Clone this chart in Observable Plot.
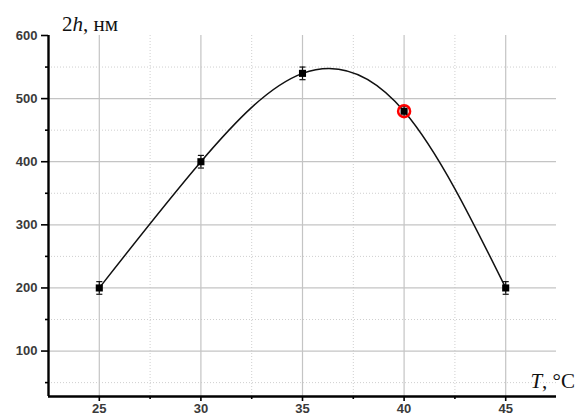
<!DOCTYPE html>
<html><head><meta charset="utf-8">
<script src="https://cdn.jsdelivr.net/npm/d3@7"></script>
<script src="https://cdn.jsdelivr.net/npm/@observablehq/plot@0.6"></script>
<style>body{margin:0;background:#fff}</style>
</head><body><div id="chart"></div>
<script>
const temps = [25, 30, 35, 40, 45];
const heights = [200, 400, 540, 480, 200];
const errors = [10, 10, 10, 8, 10];
const highlightT = [40];
const xMajor = [25, 30, 35, 40, 45];
const xMinor = [27.5, 32.5, 37.5, 42.5];
const yMajor = [100, 200, 300, 400, 500, 600];
const yMinor = [50, 150, 250, 350, 450, 550];
const xDomain = [22.5, 47.5];
const yDomain = [28, 600];

const data = temps.map((t, i) => ({t, h: heights[i], e: errors[i]}));
const hl = data.filter(d => highlightT.includes(d.t));

const plot = Plot.plot({
  width: 576, height: 419,
  marginLeft: 48, marginRight: 20, marginTop: 35, marginBottom: 23,
  style: {fontFamily: "Liberation Sans, Arial, sans-serif", fontSize: "13px", color: "#333", background: "#fff"},
  x: {domain: xDomain, label: null},
  y: {domain: yDomain, label: null},
  marks: [
    Plot.ruleX(xMinor, {stroke: "#cfcfcf", strokeDasharray: "1,2", strokeWidth: 1}),
    Plot.ruleY(yMinor, {stroke: "#cfcfcf", strokeDasharray: "1,2", strokeWidth: 1}),
    Plot.ruleX(xMajor, {stroke: "#c4c4c4", strokeWidth: 1.2}),
    Plot.ruleY(yMajor.slice(0, -1), {stroke: "#c4c4c4", strokeWidth: 1.2}),
    Plot.axisX(xMajor, {label: null, tickSize: 5, tickPadding: 2, stroke: "#000", strokeWidth: 1.6, strokeOpacity: 1, fill: "#3a3a3a", fontSize: 13, fontWeight: 600}),
    Plot.axisX(xMinor, {label: null, tickSize: 3, tickFormat: () => "", stroke: "#000", strokeWidth: 1.6, strokeOpacity: 1}),
    Plot.axisY(yMajor, {label: null, tickSize: 7, tickPadding: 4, stroke: "#000", strokeWidth: 1.6, strokeOpacity: 1, fill: "#3a3a3a", fontSize: 13, fontWeight: 600}),
    Plot.axisY(yMinor, {label: null, tickSize: 3, tickFormat: () => "", stroke: "#000", strokeWidth: 1.6, strokeOpacity: 1}),
    Plot.ruleX([xDomain[0]], {y1: yDomain[0], y2: yDomain[1], stroke: "#000", strokeWidth: 2.4, strokeOpacity: 1}),
    Plot.ruleY([yDomain[0]], {x1: xDomain[0], x2: xDomain[1], stroke: "#000", strokeWidth: 2.4, strokeOpacity: 1}),
    Plot.line(data, {x: "t", y: "h", curve: "natural", stroke: "#111", strokeWidth: 1.5}),
    Plot.ruleX(data, {x: "t", y1: d => d.h - d.e, y2: d => d.h + d.e, stroke: "#111", strokeWidth: 1.2}),
    Plot.link(data, {x1: d => d.t - 0.15, x2: d => d.t + 0.15, y1: d => d.h - d.e, y2: d => d.h - d.e, stroke: "#111", strokeWidth: 1.2}),
    Plot.link(data, {x1: d => d.t - 0.15, x2: d => d.t + 0.15, y1: d => d.h + d.e, y2: d => d.h + d.e, stroke: "#111", strokeWidth: 1.2}),
    Plot.dot(data, {x: "t", y: "h", symbol: "square", r: 4, fill: "#000"}),
    Plot.dot(hl, {x: "t", y: "h", r: 6, stroke: "#f00", strokeWidth: 2.5, fill: "none"})
  ]
});
document.getElementById("chart").append(plot);
const svg = d3.select(plot);
const yl = svg.append("text").attr("x", 62).attr("y", 31).attr("text-anchor", "start")
  .attr("font-family", "Liberation Serif, Times New Roman, serif").attr("font-size", 21).attr("fill", "#111");
yl.append("tspan").text("2");
yl.append("tspan").attr("font-style", "italic").text("h");
yl.append("tspan").text(", нм");
const xl = svg.append("text").attr("x", 575).attr("y", 388).attr("text-anchor", "end")
  .attr("font-family", "Liberation Serif, Times New Roman, serif").attr("font-size", 21).attr("fill", "#111");
xl.append("tspan").attr("font-style", "italic").text("T");
xl.append("tspan").text(", °C");
</script></body></html>
